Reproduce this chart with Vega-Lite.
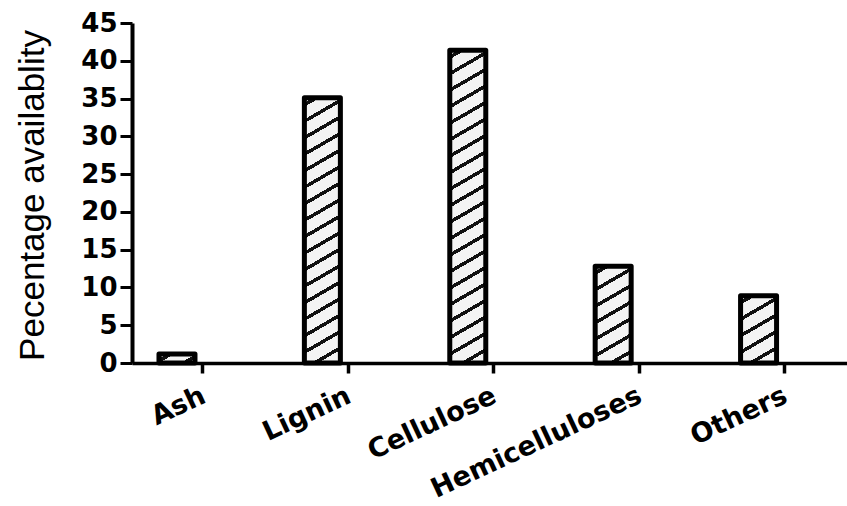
{
  "$schema": "https://vega.github.io/schema/vega-lite/v6.json",
  "autosize": {"type": "none"},
  "padding": {"left": 132, "top": 23, "right": 0, "bottom": 143},
  "width": 715,
  "height": 340,
  "background": "white",
  "config": {"view": {"stroke": null}},
  "data": {
    "values": [
      {"component": "Ash", "value": 1.2},
      {"component": "Lignin", "value": 35.1},
      {"component": "Cellulose", "value": 41.4},
      {"component": "Hemicelluloses", "value": 12.8},
      {"component": "Others", "value": 8.9}
    ]
  },
  "mark": {"type": "bar", "stroke": "black", "strokeWidth": 5, "strokeJoin": "round"},
  "encoding": {
    "x": {
      "field": "component",
      "type": "nominal",
      "sort": null,
      "scale": {"type": "band", "paddingInner": 0.7524, "paddingOuter": 0.335, "align": 0.277, "round": false},
      "axis": {
        "title": null,
        "bandPosition": 1.222,
        "domainColor": "black",
        "domainWidth": 3.5,
        "tickColor": "black",
        "tickWidth": 3.5,
        "tickSize": 10,
        "labelAngle": -25,
        "labelAlign": "right",
        "labelBaseline": "middle",
        "labelFont": "DejaVu Sans",
        "labelFontWeight": "bold",
        "labelFontSize": 27,
        "labelColor": "black",
        "labelPadding": 21,
        "labelOffset": 27,
        "labelLimit": 500,
        "labelOverlap": false,
        "grid": false
      }
    },
    "y": {
      "field": "value",
      "type": "quantitative",
      "scale": {"domain": [0, 45], "nice": false, "zero": true},
      "axis": {
        "values": [0, 5, 10, 15, 20, 25, 30, 35, 40, 45],
        "title": "Pecentage availablity",
        "titleFont": "Liberation Sans",
        "titleFontSize": 35,
        "titleFontWeight": "normal",
        "titleColor": "black",
        "titleX": -89,
        "titleY": 172,
        "titleAngle": -90,
        "titleAlign": "center",
        "titleBaseline": "alphabetic",
        "titleLimit": 500,
        "domainColor": "black",
        "domainWidth": 4,
        "tickColor": "black",
        "tickWidth": 3,
        "tickSize": 12,
        "labelFont": "DejaVu Sans",
        "labelFontWeight": "bold",
        "labelFontSize": 26,
        "labelColor": "black",
        "labelPadding": 3,
        "grid": false
      }
    },
    "fill": {
      "condition": [
        {"test": "datum.component === 'Ash'", "value": {"gradient": "linear", "x1": 0, "y1": 0, "x2": 1.2067, "y2": 0.5242, "stops": [
          {"offset": 0, "color": "#f3f3f3"},
          {"offset": 0.1669, "color": "#f3f3f3"}, {"offset": 0.1669, "color": "#111"}, {"offset": 0.3005, "color": "#111"}, {"offset": 0.3005, "color": "#f3f3f3"},
          {"offset": 0.7179, "color": "#f3f3f3"}, {"offset": 0.7179, "color": "#111"}, {"offset": 0.8514, "color": "#111"}, {"offset": 0.8514, "color": "#f3f3f3"},
          {"offset": 1, "color": "#f3f3f3"}]}},
        {"test": "datum.component === 'Lignin'", "value": {"gradient": "linear", "x1": 0, "y1": 0, "x2": 0.084409, "y2": 1.072098, "stops": [
          {"offset": 0, "color": "#f3f3f3"},
          {"offset": 0.0175, "color": "#f3f3f3"}, {"offset": 0.0175, "color": "#111"}, {"offset": 0.0315, "color": "#111"}, {"offset": 0.0315, "color": "#f3f3f3"},
          {"offset": 0.0752, "color": "#f3f3f3"}, {"offset": 0.0752, "color": "#111"}, {"offset": 0.0891, "color": "#111"}, {"offset": 0.0891, "color": "#f3f3f3"},
          {"offset": 0.1328, "color": "#f3f3f3"}, {"offset": 0.1328, "color": "#111"}, {"offset": 0.1468, "color": "#111"}, {"offset": 0.1468, "color": "#f3f3f3"},
          {"offset": 0.1905, "color": "#f3f3f3"}, {"offset": 0.1905, "color": "#111"}, {"offset": 0.2045, "color": "#111"}, {"offset": 0.2045, "color": "#f3f3f3"},
          {"offset": 0.2482, "color": "#f3f3f3"}, {"offset": 0.2482, "color": "#111"}, {"offset": 0.2622, "color": "#111"}, {"offset": 0.2622, "color": "#f3f3f3"},
          {"offset": 0.3059, "color": "#f3f3f3"}, {"offset": 0.3059, "color": "#111"}, {"offset": 0.3198, "color": "#111"}, {"offset": 0.3198, "color": "#f3f3f3"},
          {"offset": 0.3635, "color": "#f3f3f3"}, {"offset": 0.3635, "color": "#111"}, {"offset": 0.3775, "color": "#111"}, {"offset": 0.3775, "color": "#f3f3f3"},
          {"offset": 0.4212, "color": "#f3f3f3"}, {"offset": 0.4212, "color": "#111"}, {"offset": 0.4352, "color": "#111"}, {"offset": 0.4352, "color": "#f3f3f3"},
          {"offset": 0.4789, "color": "#f3f3f3"}, {"offset": 0.4789, "color": "#111"}, {"offset": 0.4929, "color": "#111"}, {"offset": 0.4929, "color": "#f3f3f3"},
          {"offset": 0.5366, "color": "#f3f3f3"}, {"offset": 0.5366, "color": "#111"}, {"offset": 0.5505, "color": "#111"}, {"offset": 0.5505, "color": "#f3f3f3"},
          {"offset": 0.5942, "color": "#f3f3f3"}, {"offset": 0.5942, "color": "#111"}, {"offset": 0.6082, "color": "#111"}, {"offset": 0.6082, "color": "#f3f3f3"},
          {"offset": 0.6519, "color": "#f3f3f3"}, {"offset": 0.6519, "color": "#111"}, {"offset": 0.6659, "color": "#111"}, {"offset": 0.6659, "color": "#f3f3f3"},
          {"offset": 0.7096, "color": "#f3f3f3"}, {"offset": 0.7096, "color": "#111"}, {"offset": 0.7236, "color": "#111"}, {"offset": 0.7236, "color": "#f3f3f3"},
          {"offset": 0.7673, "color": "#f3f3f3"}, {"offset": 0.7673, "color": "#111"}, {"offset": 0.7812, "color": "#111"}, {"offset": 0.7812, "color": "#f3f3f3"},
          {"offset": 0.8249, "color": "#f3f3f3"}, {"offset": 0.8249, "color": "#111"}, {"offset": 0.8389, "color": "#111"}, {"offset": 0.8389, "color": "#f3f3f3"},
          {"offset": 0.8826, "color": "#f3f3f3"}, {"offset": 0.8826, "color": "#111"}, {"offset": 0.8966, "color": "#111"}, {"offset": 0.8966, "color": "#f3f3f3"},
          {"offset": 0.9403, "color": "#f3f3f3"}, {"offset": 0.9403, "color": "#111"}, {"offset": 0.9543, "color": "#111"}, {"offset": 0.9543, "color": "#f3f3f3"},
          {"offset": 0.998, "color": "#f3f3f3"}, {"offset": 0.998, "color": "#111"}, {"offset": 1, "color": "#111"}]}},
        {"test": "datum.component === 'Cellulose'", "value": {"gradient": "linear", "x1": 0, "y1": 0, "x2": 0.070892, "y2": 1.062019, "stops": [
          {"offset": 0, "color": "#f3f3f3"},
          {"offset": 0.015, "color": "#f3f3f3"}, {"offset": 0.015, "color": "#111"}, {"offset": 0.027, "color": "#111"}, {"offset": 0.027, "color": "#f3f3f3"},
          {"offset": 0.0644, "color": "#f3f3f3"}, {"offset": 0.0644, "color": "#111"}, {"offset": 0.0764, "color": "#111"}, {"offset": 0.0764, "color": "#f3f3f3"},
          {"offset": 0.1139, "color": "#f3f3f3"}, {"offset": 0.1139, "color": "#111"}, {"offset": 0.1259, "color": "#111"}, {"offset": 0.1259, "color": "#f3f3f3"},
          {"offset": 0.1633, "color": "#f3f3f3"}, {"offset": 0.1633, "color": "#111"}, {"offset": 0.1753, "color": "#111"}, {"offset": 0.1753, "color": "#f3f3f3"},
          {"offset": 0.2128, "color": "#f3f3f3"}, {"offset": 0.2128, "color": "#111"}, {"offset": 0.2248, "color": "#111"}, {"offset": 0.2248, "color": "#f3f3f3"},
          {"offset": 0.2622, "color": "#f3f3f3"}, {"offset": 0.2622, "color": "#111"}, {"offset": 0.2742, "color": "#111"}, {"offset": 0.2742, "color": "#f3f3f3"},
          {"offset": 0.3117, "color": "#f3f3f3"}, {"offset": 0.3117, "color": "#111"}, {"offset": 0.3237, "color": "#111"}, {"offset": 0.3237, "color": "#f3f3f3"},
          {"offset": 0.3611, "color": "#f3f3f3"}, {"offset": 0.3611, "color": "#111"}, {"offset": 0.3731, "color": "#111"}, {"offset": 0.3731, "color": "#f3f3f3"},
          {"offset": 0.4106, "color": "#f3f3f3"}, {"offset": 0.4106, "color": "#111"}, {"offset": 0.4226, "color": "#111"}, {"offset": 0.4226, "color": "#f3f3f3"},
          {"offset": 0.46, "color": "#f3f3f3"}, {"offset": 0.46, "color": "#111"}, {"offset": 0.472, "color": "#111"}, {"offset": 0.472, "color": "#f3f3f3"},
          {"offset": 0.5095, "color": "#f3f3f3"}, {"offset": 0.5095, "color": "#111"}, {"offset": 0.5215, "color": "#111"}, {"offset": 0.5215, "color": "#f3f3f3"},
          {"offset": 0.5589, "color": "#f3f3f3"}, {"offset": 0.5589, "color": "#111"}, {"offset": 0.5709, "color": "#111"}, {"offset": 0.5709, "color": "#f3f3f3"},
          {"offset": 0.6084, "color": "#f3f3f3"}, {"offset": 0.6084, "color": "#111"}, {"offset": 0.6204, "color": "#111"}, {"offset": 0.6204, "color": "#f3f3f3"},
          {"offset": 0.6578, "color": "#f3f3f3"}, {"offset": 0.6578, "color": "#111"}, {"offset": 0.6698, "color": "#111"}, {"offset": 0.6698, "color": "#f3f3f3"},
          {"offset": 0.7073, "color": "#f3f3f3"}, {"offset": 0.7073, "color": "#111"}, {"offset": 0.7193, "color": "#111"}, {"offset": 0.7193, "color": "#f3f3f3"},
          {"offset": 0.7567, "color": "#f3f3f3"}, {"offset": 0.7567, "color": "#111"}, {"offset": 0.7687, "color": "#111"}, {"offset": 0.7687, "color": "#f3f3f3"},
          {"offset": 0.8062, "color": "#f3f3f3"}, {"offset": 0.8062, "color": "#111"}, {"offset": 0.8182, "color": "#111"}, {"offset": 0.8182, "color": "#f3f3f3"},
          {"offset": 0.8556, "color": "#f3f3f3"}, {"offset": 0.8556, "color": "#111"}, {"offset": 0.8676, "color": "#111"}, {"offset": 0.8676, "color": "#f3f3f3"},
          {"offset": 0.9051, "color": "#f3f3f3"}, {"offset": 0.9051, "color": "#111"}, {"offset": 0.9171, "color": "#111"}, {"offset": 0.9171, "color": "#f3f3f3"},
          {"offset": 0.9545, "color": "#f3f3f3"}, {"offset": 0.9545, "color": "#111"}, {"offset": 0.9665, "color": "#111"}, {"offset": 0.9665, "color": "#f3f3f3"},
          {"offset": 1, "color": "#f3f3f3"}]}},
        {"test": "datum.component === 'Hemicelluloses'", "value": {"gradient": "linear", "x1": 0, "y1": 0, "x2": 0.250831, "y2": 1.161777, "stops": [
          {"offset": 0, "color": "#f3f3f3"},
          {"offset": 0.0425, "color": "#f3f3f3"}, {"offset": 0.0425, "color": "#111"}, {"offset": 0.0765, "color": "#111"}, {"offset": 0.0765, "color": "#f3f3f3"},
          {"offset": 0.1828, "color": "#f3f3f3"}, {"offset": 0.1828, "color": "#111"}, {"offset": 0.2169, "color": "#111"}, {"offset": 0.2169, "color": "#f3f3f3"},
          {"offset": 0.3232, "color": "#f3f3f3"}, {"offset": 0.3232, "color": "#111"}, {"offset": 0.3572, "color": "#111"}, {"offset": 0.3572, "color": "#f3f3f3"},
          {"offset": 0.4635, "color": "#f3f3f3"}, {"offset": 0.4635, "color": "#111"}, {"offset": 0.4975, "color": "#111"}, {"offset": 0.4975, "color": "#f3f3f3"},
          {"offset": 0.6038, "color": "#f3f3f3"}, {"offset": 0.6038, "color": "#111"}, {"offset": 0.6378, "color": "#111"}, {"offset": 0.6378, "color": "#f3f3f3"},
          {"offset": 0.7441, "color": "#f3f3f3"}, {"offset": 0.7441, "color": "#111"}, {"offset": 0.7781, "color": "#111"}, {"offset": 0.7781, "color": "#f3f3f3"},
          {"offset": 0.8844, "color": "#f3f3f3"}, {"offset": 0.8844, "color": "#111"}, {"offset": 0.9184, "color": "#111"}, {"offset": 0.9184, "color": "#f3f3f3"},
          {"offset": 1, "color": "#f3f3f3"}]}},
        {"test": "datum.component === 'Others'", "value": {"gradient": "linear", "x1": 0, "y1": 0, "x2": 0.371163, "y2": 1.195259, "stops": [
          {"offset": 0, "color": "#f3f3f3"},
          {"offset": 0.0567, "color": "#f3f3f3"}, {"offset": 0.0567, "color": "#111"}, {"offset": 0.1021, "color": "#111"}, {"offset": 0.1021, "color": "#f3f3f3"},
          {"offset": 0.244, "color": "#f3f3f3"}, {"offset": 0.244, "color": "#111"}, {"offset": 0.2894, "color": "#111"}, {"offset": 0.2894, "color": "#f3f3f3"},
          {"offset": 0.4312, "color": "#f3f3f3"}, {"offset": 0.4312, "color": "#111"}, {"offset": 0.4766, "color": "#111"}, {"offset": 0.4766, "color": "#f3f3f3"},
          {"offset": 0.6185, "color": "#f3f3f3"}, {"offset": 0.6185, "color": "#111"}, {"offset": 0.6639, "color": "#111"}, {"offset": 0.6639, "color": "#f3f3f3"},
          {"offset": 0.8057, "color": "#f3f3f3"}, {"offset": 0.8057, "color": "#111"}, {"offset": 0.8511, "color": "#111"}, {"offset": 0.8511, "color": "#f3f3f3"},
          {"offset": 0.993, "color": "#f3f3f3"}, {"offset": 0.993, "color": "#111"}, {"offset": 1, "color": "#111"}]}}
      ],
      "value": "#e0e0e0"
    }
  }
}
